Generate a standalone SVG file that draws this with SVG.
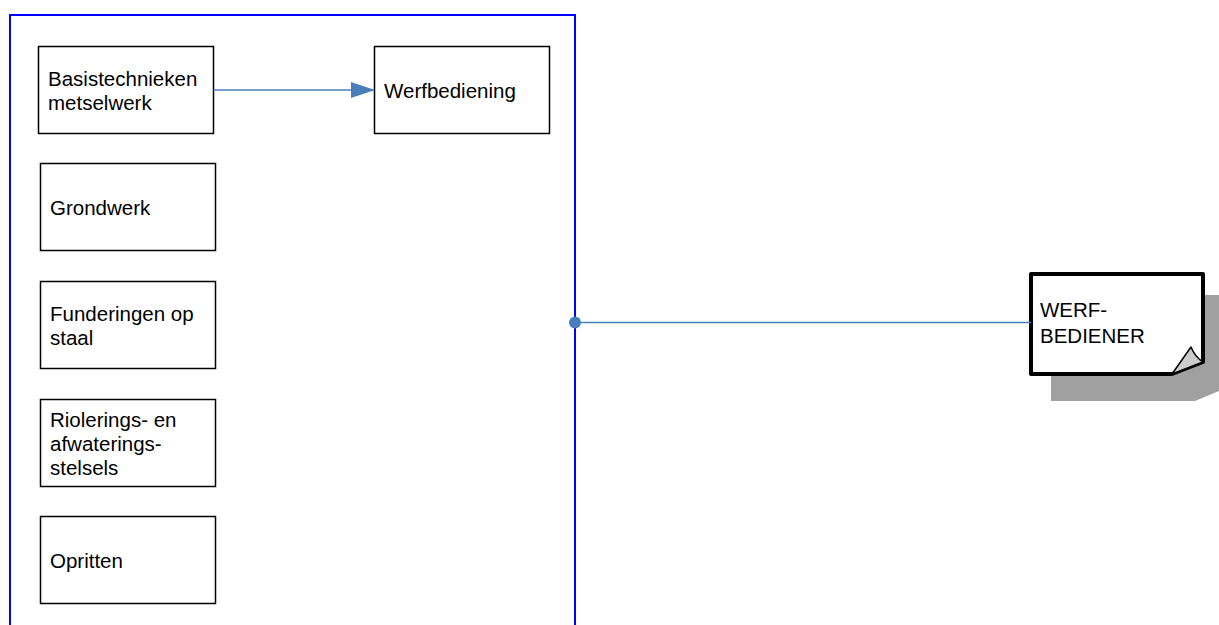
<svg xmlns="http://www.w3.org/2000/svg" width="1219" height="625" viewBox="0 0 1219 625">
<style>
.n{fill:#fff;stroke:#000;stroke-width:1.5}
.t{font-family:"Liberation Sans",Arial,sans-serif;font-size:20.5px;fill:#000}
.c{stroke:#4a7ebb;stroke-width:1.5;fill:none}
</style>
<defs>
<marker id="ah" markerWidth="24" markerHeight="16" refX="23" refY="8" orient="auto" markerUnits="userSpaceOnUse">
<path d="M0,0 L24,8 L0,16 Z" fill="#4a7ebb"/>
</marker>
</defs>
<rect width="1219" height="625" fill="#fff"/>
<g id="container">
<rect x="10" y="15" width="565" height="640" fill="none" stroke="#0000ff" stroke-width="2"/>
</g>
<g id="basistechnieken">
<rect class="n" x="38.5" y="46.5" width="175" height="87"/>
<text class="t" x="48" y="86">Basistechnieken</text>
<text class="t" x="48" y="110">metselwerk</text>
</g>
<g id="werfbediening">
<rect class="n" x="374.5" y="46.5" width="175" height="87"/>
<text class="t" x="384" y="98">Werfbediening</text>
</g>
<g id="grondwerk">
<rect class="n" x="40.5" y="163.5" width="175" height="87"/>
<text class="t" x="50" y="215">Grondwerk</text>
</g>
<g id="funderingen">
<rect class="n" x="40.5" y="281.5" width="175" height="87"/>
<text class="t" x="50" y="321">Funderingen op</text>
<text class="t" x="50" y="345">staal</text>
</g>
<g id="rioleringen">
<rect class="n" x="40.5" y="399.5" width="175" height="87"/>
<text class="t" x="50" y="427">Riolerings- en</text>
<text class="t" x="50" y="451">afwaterings-</text>
<text class="t" x="50" y="475">stelsels</text>
</g>
<g id="opritten">
<rect class="n" x="40.5" y="516.5" width="175" height="87"/>
<text class="t" x="50" y="568">Opritten</text>
</g>
<g id="werfbediener">
<path d="M1051,295 L1219,295 L1219,391 L1195,401 L1051,401 Z" fill="#a0a0a0"/>
<path d="M1031,274 L1203,274 L1203,362 L1172,374 L1031,374 Z" fill="#fff" stroke="#000" stroke-width="4" stroke-linejoin="round"/>
<path d="M1172,374 L1191,347 Q1195,357 1203,362 Z" fill="#cccccc" stroke="#000" stroke-width="1.5" stroke-linejoin="round"/>
<text class="t" x="1040" y="317">WERF-</text>
<text class="t" x="1040" y="343">BEDIENER</text>
</g>
<g id="connectors">
<line class="c" x1="213.5" y1="90" x2="374" y2="90" marker-end="url(#ah)"/>
<line class="c" x1="575" y1="322.5" x2="1031" y2="322.5"/>
<circle cx="575" cy="322.5" r="6" fill="#4a7ebb"/>
</g>
</svg>
